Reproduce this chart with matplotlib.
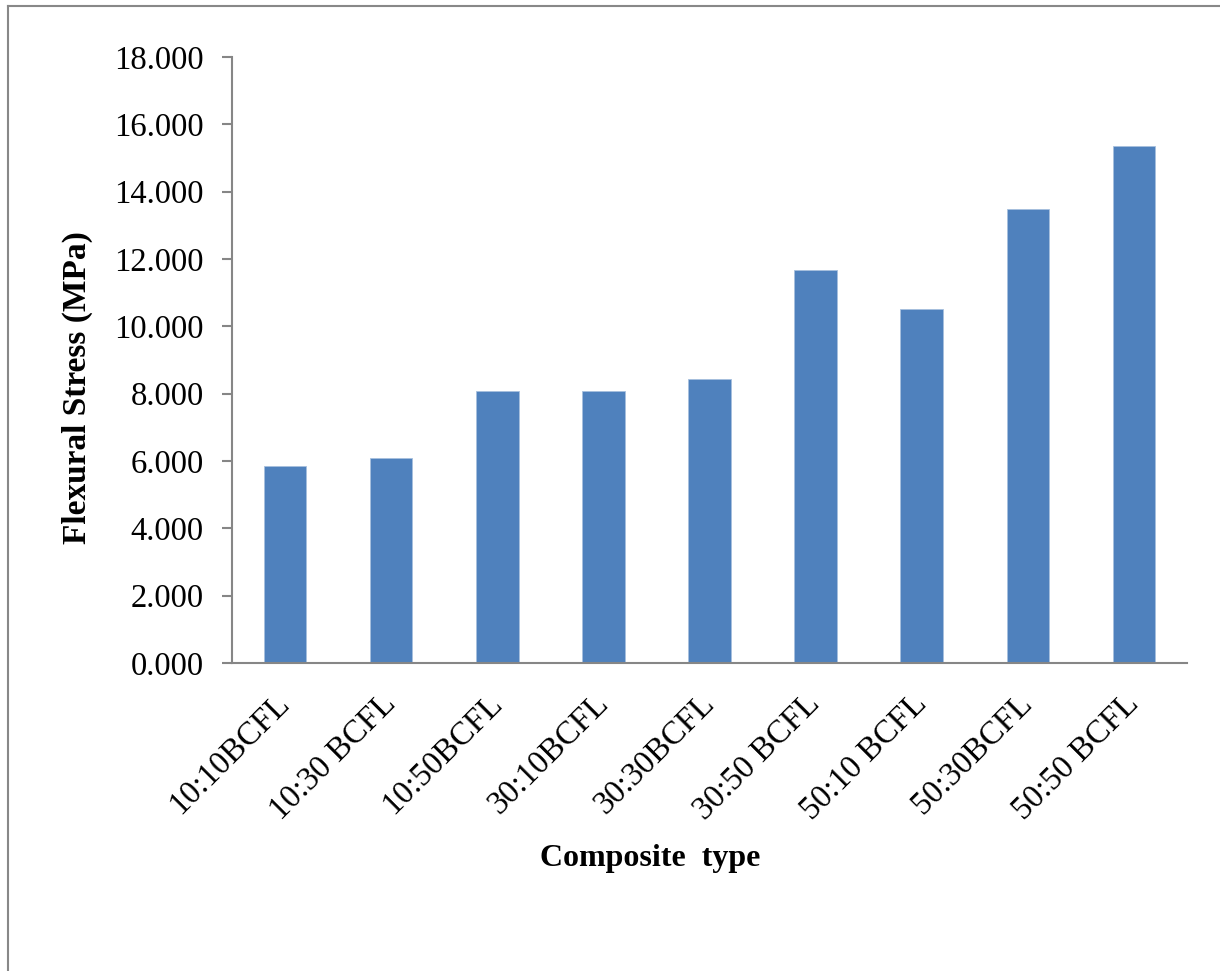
import matplotlib.pyplot as plt
from matplotlib.lines import Line2D
import numpy as np

# Flexural stress per composite type
tipos = ["10:10BCFL", "10:30 BCFL", "10:50BCFL", "30:10BCFL", "30:30BCFL",
         "30:50 BCFL", "50:10 BCFL", "50:30BCFL", "50:50 BCFL"]
esfuerzo = [5.85, 6.08, 8.08, 8.08, 8.44, 11.67, 10.51, 13.48, 15.36]
yticks = [0, 2, 4, 6, 8, 10, 12, 14, 16, 18]

plt.rcParams["font.family"] = ["Liberation Serif", "DejaVu Serif"]

W, H = 1220, 971
fig = plt.figure(figsize=(W / 100, H / 100), dpi=100)
ax = fig.add_axes([232 / W, 1 - 663 / H, (1187 - 232) / W, (663 - 57) / H])

x = np.arange(len(tipos))
ax.bar(x, esfuerzo, width=0.4, color="#4F81BD", edgecolor="#A7C0DE", linewidth=0.6)

ax.set_xlim(-0.5, len(tipos) - 0.5)
ax.set_ylim(0, 18)
ax.set_yticks(yticks)
ax.set_yticklabels([f"{v:.3f}" for v in yticks], fontsize=23.5)
ax.set_xticks(x)
ax.set_xticklabels(tipos, fontsize=23.5, rotation=45, ha="right", va="center",
                   rotation_mode="anchor")

for s in ["top", "right"]:
    ax.spines[s].set_visible(False)
for s in ["left", "bottom"]:
    ax.spines[s].set_color("#868686")
    ax.spines[s].set_linewidth(1.5)
ax.tick_params(axis="y", length=7.2, width=1.5, color="#868686", pad=13)
ax.tick_params(axis="x", length=0, pad=26)

fig.text(77 / W, 1 - 388 / H, "Flexural Stress (MPa)", rotation=90,
         fontsize=24, weight="bold", ha="center", va="center")
fig.text(650 / W, 1 - 858 / H, "Composite  type", fontsize=23,
         weight="bold", ha="center", va="center")

# chart frame (left and top edges)
fig.add_artist(Line2D([8 / W, 8 / W], [0, 1 - 6 / H], transform=fig.transFigure,
                      color="#888888", linewidth=1.5))
fig.add_artist(Line2D([8 / W, 1], [1 - 6 / H, 1 - 6 / H], transform=fig.transFigure,
                      color="#888888", linewidth=1.5))

fig.savefig("out.png", dpi=100)
